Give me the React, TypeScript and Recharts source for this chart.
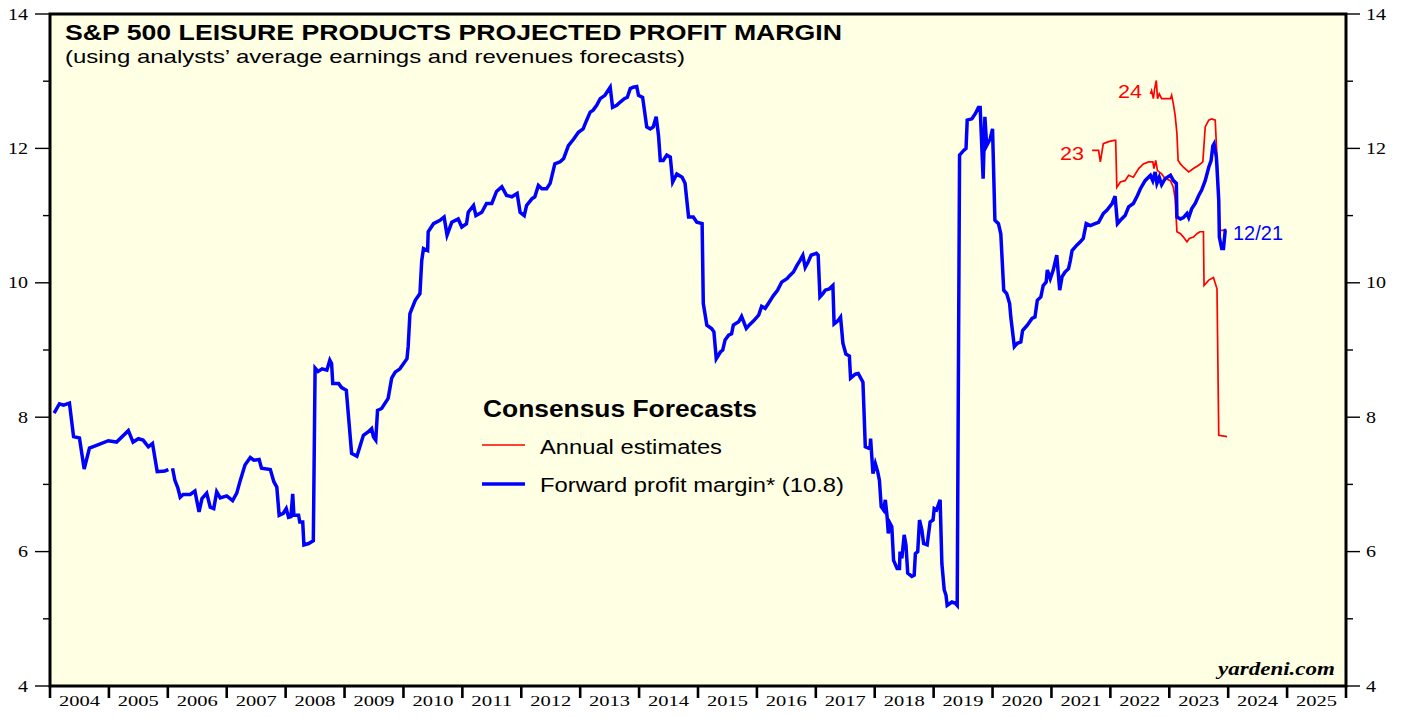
import React from "react";
import { LineChart, Line, XAxis, YAxis, CartesianGrid, ReferenceArea } from "recharts";

// ---------- data ----------
const yearLabels = [2004, 2005, 2006, 2007, 2008, 2009, 2010, 2011, 2012, 2013, 2014, 2015, 2016, 2017, 2018, 2019, 2020, 2021, 2022, 2023, 2024, 2025];
const yearBoundaries = [2004, 2005, 2006, 2007, 2008, 2009, 2010, 2011, 2012, 2013, 2014, 2015, 2016, 2017, 2018, 2019, 2020, 2021, 2022, 2023, 2024, 2025, 2026];
const yTicks = [4, 5, 6, 7, 8, 9, 10, 11, 12, 13, 14];

const forwardDates = [
  2004.07, 2004.16, 2004.23, 2004.33, 2004.40, 2004.50, 2004.58, 2004.67, 2004.79, 2004.99,
  2005.13, 2005.33, 2005.41, 2005.50, 2005.58, 2005.67, 2005.74, 2005.82, 2005.95, 2006.01,
  2006.04, 2006.08, 2006.12, 2006.17, 2006.21, 2006.26, 2006.38, 2006.46, 2006.53, 2006.58,
  2006.66, 2006.72, 2006.78, 2006.83, 2006.89, 2007.00, 2007.10, 2007.17, 2007.23, 2007.31,
  2007.40, 2007.46, 2007.55, 2007.59, 2007.74, 2007.80, 2007.85, 2007.89, 2007.96, 2008.01,
  2008.05, 2008.09, 2008.12, 2008.14, 2008.22, 2008.24, 2008.29, 2008.31, 2008.39, 2008.47,
  2008.50, 2008.55, 2008.62, 2008.70, 2008.75, 2008.78, 2008.80, 2008.90, 2008.95, 2009.03,
  2009.12, 2009.21, 2009.26, 2009.32, 2009.40, 2009.46, 2009.49, 2009.53, 2009.56, 2009.63,
  2009.74, 2009.80, 2009.86, 2009.94, 2010.06, 2010.08, 2010.11, 2010.20, 2010.28, 2010.31,
  2010.34, 2010.41, 2010.42, 2010.51, 2010.62, 2010.69, 2010.74, 2010.82, 2010.93, 2010.99,
  2011.07, 2011.10, 2011.19, 2011.23, 2011.33, 2011.41, 2011.50, 2011.58, 2011.67, 2011.75,
  2011.84, 2011.93, 2011.98, 2012.05, 2012.09, 2012.18, 2012.23, 2012.29, 2012.35, 2012.43,
  2012.49, 2012.57, 2012.66, 2012.72, 2012.80, 2012.89, 2012.97, 2013.05, 2013.11, 2013.17,
  2013.22, 2013.28, 2013.34, 2013.42, 2013.51, 2013.55, 2013.62, 2013.68, 2013.75, 2013.80,
  2013.85, 2013.90, 2013.96, 2013.99, 2014.06, 2014.13, 2014.19, 2014.24, 2014.29, 2014.33,
  2014.36, 2014.41, 2014.47, 2014.53, 2014.57, 2014.64, 2014.73, 2014.78, 2014.84, 2014.92,
  2014.98, 2015.07, 2015.09, 2015.15, 2015.23, 2015.27, 2015.31, 2015.38, 2015.42, 2015.46,
  2015.52, 2015.57, 2015.60, 2015.69, 2015.74, 2015.82, 2015.88, 2015.94, 2016.03, 2016.08,
  2016.14, 2016.20, 2016.28, 2016.35, 2016.42, 2016.51, 2016.56, 2016.62, 2016.68, 2016.73,
  2016.78, 2016.82, 2016.87, 2016.92, 2017.01, 2017.04, 2017.07, 2017.12, 2017.16, 2017.23,
  2017.29, 2017.31, 2017.38, 2017.42, 2017.46, 2017.51, 2017.57, 2017.59, 2017.67, 2017.72,
  2017.80, 2017.84, 2017.92, 2017.93, 2017.97, 2018.01, 2018.05, 2018.08, 2018.11, 2018.15,
  2018.18, 2018.21, 2018.23, 2018.26, 2018.29, 2018.32, 2018.38, 2018.42, 2018.43, 2018.46,
  2018.50, 2018.53, 2018.56, 2018.63, 2018.67, 2018.69, 2018.73, 2018.76, 2018.80, 2018.83,
  2018.89, 2018.94, 2018.99, 2019.01, 2019.05, 2019.11, 2019.14, 2019.18, 2019.21, 2019.23,
  2019.31, 2019.37, 2019.40, 2019.44, 2019.51, 2019.55, 2019.57, 2019.65, 2019.71, 2019.76,
  2019.79, 2019.84, 2019.87, 2019.90, 2019.96, 2020.00, 2020.04, 2020.10, 2020.14, 2020.19,
  2020.24, 2020.29, 2020.31, 2020.37, 2020.42, 2020.48, 2020.51, 2020.59, 2020.67, 2020.72,
  2020.76, 2020.82, 2020.86, 2020.91, 2020.93, 2020.98, 2021.03, 2021.09, 2021.14, 2021.18,
  2021.23, 2021.29, 2021.32, 2021.35, 2021.43, 2021.49, 2021.54, 2021.59, 2021.66, 2021.74,
  2021.80, 2021.88, 2021.94, 2022.03, 2022.08, 2022.12, 2022.17, 2022.25, 2022.31, 2022.39,
  2022.46, 2022.51, 2022.59, 2022.68, 2022.72, 2022.76, 2022.79, 2022.83, 2022.87, 2022.93,
  2023.02, 2023.07, 2023.12, 2023.13, 2023.19, 2023.24, 2023.30, 2023.33, 2023.38, 2023.44,
  2023.50, 2023.55, 2023.61, 2023.67, 2023.71, 2023.74, 2023.76, 2023.80, 2023.84, 2023.85,
  2023.89, 2023.92, 2023.95, 2023.97,
];
const forwardMargin = [
  8.06, 8.20, 8.18, 8.21, 7.71, 7.69, 7.23, 7.54, 7.58, 7.65,
  7.63, 7.80, 7.63, 7.68, 7.66, 7.56, 7.61, 7.19, 7.20, 7.22,
  null, 7.24, 7.06, 6.95, 6.81, 6.85, 6.85, 6.90, 6.59, 6.79,
  6.87, 6.66, 6.64, 6.89, 6.80, 6.83, 6.76, 6.87, 7.06, 7.29,
  7.40, 7.36, 7.37, 7.24, 7.22, 7.04, 6.96, 6.54, 6.57, 6.64,
  6.51, 6.52, 6.86, 6.54, 6.54, 6.44, 6.44, 6.10, 6.12, 6.16,
  8.73, 8.68, 8.72, 8.70, 8.85, 8.80, 8.50, 8.50, 8.44, 8.40,
  7.46, 7.42, 7.56, 7.73, 7.78, 7.83, 7.71, 7.66, 8.10, 8.13,
  8.28, 8.58, 8.67, 8.72, 8.87, 9.05, 9.54, 9.74, 9.84, 10.33,
  10.51, 10.48, 10.76, 10.88, 10.93, 10.98, 10.71, 10.90, 10.95, 10.83,
  10.88, 11.05, 11.15, 11.00, 11.05, 11.18, 11.18, 11.36, 11.43, 11.30,
  11.28, 11.33, 11.05, 11.00, 11.15, 11.25, 11.28, 11.45, 11.40, 11.40,
  11.48, 11.77, 11.80, 11.85, 12.04, 12.14, 12.24, 12.29, 12.42, 12.54,
  12.57, 12.64, 12.74, 12.79, 12.91, 12.61, 12.64, 12.69, 12.74, 12.76,
  12.89, 12.91, 12.92, 12.79, 12.76, 12.32, 12.29, 12.32, 12.47, 12.19,
  11.82, 11.82, 11.90, 11.87, 11.50, 11.62, 11.57, 11.48, 10.98, 10.98,
  10.90, 10.88, 9.69, 9.37, 9.32, 9.27, 8.87, 8.97, 9.00, 9.15,
  9.22, 9.24, 9.37, 9.42, 9.50, 9.32, 9.38, 9.43, 9.52, 9.65,
  9.62, 9.70, 9.81, 9.89, 10.01, 10.06, 10.11, 10.16, 10.26, 10.33,
  10.41, 10.23, 10.31, 10.41, 10.44, 10.41, 9.79, 9.84, 9.89, 9.91,
  9.96, 9.39, 9.44, 9.49, 9.10, 8.94, 8.91, 8.58, 8.64, 8.65,
  8.52, 7.56, 7.53, 7.68, 7.16, 7.31, 7.19, 7.06, 6.67, 6.62,
  6.77, 6.52, 6.27, 6.42, 6.37, 5.87, 5.75, 5.75, 6.00, 5.90,
  6.25, 6.10, 5.68, 5.63, 5.65, 5.97, 6.00, 6.47, 6.32, 6.12,
  6.10, 6.44, 6.47, 6.64, 6.62, 6.77, 5.82, 5.43, 5.35, 5.20,
  5.25, 5.23, 5.20, 11.90, 11.97, 12.00, 12.42, 12.44, 12.52, 12.61,
  12.61, 11.55, 12.47, 12.04, 12.14, 12.29, 10.93, 10.88, 10.73, 9.89,
  9.84, 9.69, 9.49, 9.05, 9.10, 9.12, 9.29, 9.37, 9.47, 9.49,
  9.74, 9.79, 9.96, 10.01, 10.19, 10.06, 10.19, 10.41, 9.89, 10.09,
  10.16, 10.21, 10.33, 10.48, 10.56, 10.61, 10.66, 10.88, 10.85, 10.88,
  10.90, 11.03, 11.08, 11.18, 11.29, 10.88, 10.93, 11.00, 11.13, 11.18,
  11.30, 11.40, 11.52, 11.60, 11.52, 11.65, 11.48, 11.57, 11.46, 11.55,
  11.60, 11.52, 11.48, 10.98, 10.95, 10.97, 11.03, 10.97, 11.10, 11.18,
  11.30, 11.38, 11.52, 11.72, 11.82, 12.04, 12.07, 11.87, 11.23, 10.68,
  10.51, 10.51, 10.78, 10.78,
];

const est2023Dates = [
  2021.69, 2021.80, 2021.83, 2021.88, 2021.97, 2022.06, 2022.09, 2022.11, 2022.17, 2022.25,
  2022.31, 2022.39, 2022.48, 2022.56, 2022.65, 2022.72, 2022.74, 2022.77, 2022.80, 2022.87,
  2022.93, 2023.02, 2023.07, 2023.10, 2023.13, 2023.19, 2023.24, 2023.30, 2023.34, 2023.41,
  2023.47, 2023.52, 2023.58, 2023.59, 2023.67, 2023.75, 2023.81, 2023.84, 2023.98,
];
const est2023Values = [
  11.97, 11.97, 11.80, 12.07, 12.10, 12.12, 12.12, 11.42, 11.50, 11.52,
  11.60, 11.57, 11.70, 11.77, 11.80, 11.80, 11.70, 11.82, 11.67, 11.62,
  11.55, 11.52, 11.42, 11.25, 10.76, 10.73, 10.68, 10.61, 10.66, 10.68,
  10.73, 10.76, 10.76, 9.96, 10.04, 10.08, 9.91, 7.73, 7.71,
];

const est2024Dates = [
  2022.68, 2022.70, 2022.73, 2022.75, 2022.78, 2022.80, 2022.83, 2022.87, 2023.02, 2023.04,
  2023.07, 2023.10, 2023.13, 2023.15, 2023.19, 2023.24, 2023.33, 2023.41, 2023.50, 2023.57,
  2023.61, 2023.67, 2023.72, 2023.78, 2023.81, 2023.84, 2023.86, 2023.95,
];
const est2024Values = [
  12.81, 12.86, 12.74, 12.88, 13.01, 12.74, 12.81, 12.74, 12.74, 12.79,
  12.66, 12.49, 12.22, 11.82, 11.77, 11.72, 11.65, 11.70, 11.75, 11.80,
  12.32, 12.42, 12.44, 12.42, 11.87, 11.23, 10.78, 10.78,
];

const forwardData = forwardDates.map((t, i) => ({ t, v: forwardMargin[i] }));
const est2023Data = est2023Dates.map((t, i) => ({ t, v: est2023Values[i] }));
const est2024Data = est2024Dates.map((t, i) => ({ t, v: est2024Values[i] }));

// ---------- layout ----------
const W = 1405;
const H = 717;
const LEFT_AXIS_W = 50;
const RIGHT_AXIS_W = 59;
const X_AXIS_H = 31;
const TOP = 14;
const HALF_YEAR_PX = (W - LEFT_AXIS_W - RIGHT_AXIS_W) / (yearBoundaries.length - 1) / 2;
const BG = "#FFFFE4";
const SANS = "'Liberation Sans', Arial, sans-serif";
const SERIF = "'Liberation Serif', 'Times New Roman', serif";

const XTick = (props: any) => {
  const { x, y, payload } = props;
  const v = payload.value;
  const showLabel = yearLabels.includes(v);
  return (
    <g>
      <line x1={x} y1={y} x2={x} y2={y + 12} stroke="#000" strokeWidth={2.6} />
      {showLabel && (
        <text
          x={x + HALF_YEAR_PX}
          y={y + 20}
          textAnchor="middle"
          fontFamily={SERIF}
          fontSize={15.5}
          fill="#000"
          textLength={41}
          lengthAdjust="spacingAndGlyphs"
        >
          {String(v)}
        </text>
      )}
    </g>
  );
};

const YTickLeft = (props: any) => {
  const { x, y, payload } = props;
  const v = payload.value;
  const major = v % 2 === 0;
  return (
    <g>
      <line x1={x - (major ? 15 : 7)} y1={y} x2={x} y2={y} stroke="#000" strokeWidth={1.4} />
      {major && (
        <text
          x={x - 22}
          y={y + 5.5}
          textAnchor="end"
          fontFamily={SERIF}
          fontSize={16}
          fill="#000"
          textLength={String(v).length * 10}
          lengthAdjust="spacingAndGlyphs"
        >
          {String(v)}
        </text>
      )}
    </g>
  );
};

const YTickRight = (props: any) => {
  const { x, y, payload } = props;
  const v = payload.value;
  const major = v % 2 === 0;
  return (
    <g>
      <line x1={x} y1={y} x2={x + (major ? 14 : 7)} y2={y} stroke="#000" strokeWidth={1.4} />
      {major && (
        <text
          x={x + 20}
          y={y + 5.5}
          textAnchor="start"
          fontFamily={SERIF}
          fontSize={16}
          fill="#000"
          textLength={String(v).length * 10}
          lengthAdjust="spacingAndGlyphs"
        >
          {String(v)}
        </text>
      )}
    </g>
  );
};

const Overlay = () => (
  <svg
    width={W}
    height={H}
    style={{ position: "absolute", left: 0, top: 0, pointerEvents: "none" }}
  >
    <text x={65} y={40} fontFamily={SANS} fontWeight="bold" fontSize={22} fill="#000" textLength={777} lengthAdjust="spacingAndGlyphs">
      S&amp;P 500 LEISURE PRODUCTS PROJECTED PROFIT MARGIN
    </text>
    <text x={65} y={63} fontFamily={SANS} fontSize={19} fill="#000" textLength={620} lengthAdjust="spacingAndGlyphs">
      (using analysts’ average earnings and revenues forecasts)
    </text>

    <text x={483} y={416.5} fontFamily={SANS} fontWeight="bold" fontSize={23} fill="#000" textLength={274} lengthAdjust="spacingAndGlyphs">
      Consensus Forecasts
    </text>
    <line x1={482} y1={445} x2={525} y2={445} stroke="#FF0000" strokeWidth={1.7} />
    <text x={540} y={454} fontFamily={SANS} fontSize={19.5} fill="#000" textLength={182} lengthAdjust="spacingAndGlyphs">
      Annual estimates
    </text>
    <line x1={482} y1={484} x2={525} y2={484} stroke="#0000FF" strokeWidth={3.5} />
    <text x={540} y={491.5} fontFamily={SANS} fontSize={19.5} fill="#000" textLength={304} lengthAdjust="spacingAndGlyphs">
      Forward profit margin* (10.8)
    </text>

    <text x={1118} y={98} fontFamily={SANS} fontSize={19} fill="#FF0000" textLength={24} lengthAdjust="spacingAndGlyphs">24</text>
    <text x={1060} y={159.5} fontFamily={SANS} fontSize={19} fill="#FF0000" textLength={24} lengthAdjust="spacingAndGlyphs">23</text>
    <text x={1233} y={240} fontFamily={SANS} fontSize={21} fill="#0000FF" textLength={50} lengthAdjust="spacingAndGlyphs">12/21</text>

    <text x={1335} y={675} textAnchor="end" fontFamily={SERIF} fontWeight="bold" fontStyle="italic" fontSize={19} fill="#000" textLength={117} lengthAdjust="spacingAndGlyphs">
      yardeni.com
    </text>
  </svg>
);

export default function App() {
  return (
    <div style={{ position: "absolute", left: 0, top: 0, width: W, height: H, background: "#fff" }}>
      <LineChart width={W} height={H} margin={{ top: TOP, right: 0, bottom: 0, left: 0 }}>
        <CartesianGrid fill={BG} horizontal={false} vertical={false} stroke="none" />
        <XAxis
          dataKey="t"
          type="number"
          domain={[2004, 2026]}
          allowDataOverflow
          ticks={yearBoundaries}
          interval={0}
          height={X_AXIS_H}
          axisLine={false}
          tickLine={false}
          tickSize={0}
          tickMargin={0}
          tick={<XTick />}
        />
        <YAxis
          yAxisId="left"
          orientation="left"
          type="number"
          domain={[4, 14]}
          allowDataOverflow
          ticks={yTicks}
          interval={0}
          width={LEFT_AXIS_W}
          axisLine={false}
          tickLine={false}
          tickSize={0}
          tickMargin={0}
          tick={<YTickLeft />}
        />
        <YAxis
          yAxisId="right"
          orientation="right"
          type="number"
          domain={[4, 14]}
          allowDataOverflow
          ticks={yTicks}
          interval={0}
          width={RIGHT_AXIS_W}
          axisLine={false}
          tickLine={false}
          tickSize={0}
          tickMargin={0}
          tick={<YTickRight />}
        />
        <Line
          yAxisId="left"
          data={est2023Data}
          dataKey="v"
          stroke="#FF0000"
          strokeWidth={1.7}
          dot={false}
          isAnimationActive={false}
          type="linear"
        />
        <Line
          yAxisId="left"
          data={est2024Data}
          dataKey="v"
          stroke="#FF0000"
          strokeWidth={1.7}
          dot={false}
          isAnimationActive={false}
          type="linear"
        />
        <Line
          yAxisId="left"
          data={forwardData}
          dataKey="v"
          stroke="#0000FF"
          strokeWidth={3.5}
          dot={false}
          isAnimationActive={false}
          type="linear"
          connectNulls={false}
        />
        <ReferenceArea
          yAxisId="left"
          x1={2004}
          x2={2026}
          y1={4}
          y2={14}
          fill="none"
          fillOpacity={0}
          stroke="#000"
          strokeWidth={3}
          ifOverflow="visible"
        />
      </LineChart>
      <Overlay />
    </div>
  );
}
